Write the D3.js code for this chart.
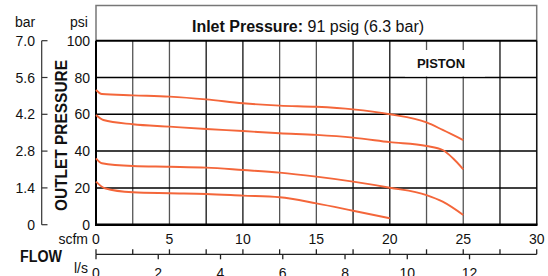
<!DOCTYPE html>
<html>
<head>
<meta charset="utf-8">
<script src="https://cdn.jsdelivr.net/npm/d3@7"></script>
<style>
  body { margin: 0; background: #fff; }
  svg { display: block; font-family: "Liberation Sans", Arial, sans-serif; }
  .lbl { font-size: 14px; fill: #111; }
  .bold { font-weight: bold; }
</style>
</head>
<body>
<div id="chart"></div>
<script>
// flow in scfm, outlet pressure in psi
var curve1 = [[0, 73.2], [0.4, 71], [2.5, 70.3], [5, 69.6], [7.5, 68.1], [10, 66], [12.5, 64.7], [15, 64.1], [17.5, 62.7], [20, 60], [22.5, 55.6], [23.6, 51.5], [25, 46]];
var curve2 = [[0, 59.6], [0.5, 56.9], [2.5, 54.6], [5, 53.3], [7.5, 52], [10, 50.9], [12.5, 49.7], [15, 48.8], [17.5, 47.3], [20, 44.9], [22.5, 42.8], [23.6, 40.6], [24.3, 36.1], [25, 30.1]];
var curve3 = [[0, 36.1], [0.4, 33.4], [2.5, 31.9], [5, 31.5], [7.5, 31], [10, 29.7], [12.5, 28.3], [15, 26.1], [17.5, 23.4], [20, 20.1], [22.5, 16.1], [23.6, 12.5], [25, 5.3]];
var curve4 = [[0, 23.4], [0.6, 19.8], [2.5, 17.6], [5, 17.1], [7.5, 16.7], [10, 15.8], [12.5, 14.9], [15, 11.6], [17.5, 7.6], [20, 3.5]];
var curves = [curve1, curve2, curve3, curve4];

var psiTicks = [0, 20, 40, 60, 80, 100];
var barLabels = ["0", "1.4", "2.8", "4.2", "5.6", "7.0"];
var scfmTicks = [0, 5, 10, 15, 20, 25, 30];
var lsTicks = [0, 2, 4, 6, 8, 10, 12];
var scfmPerLs = 2.119;

var width = 548, height = 276;
var x0 = 96, x1 = 536.7, yTop = 40.7, yBot = 224.7;

var x = d3.scaleLinear().domain([0, 30]).range([x0, x1]);
var xLs = d3.scaleLinear().domain([0, 30 / scfmPerLs]).range([x0, x1]);
var y = d3.scaleLinear().domain([0, 100]).range([yBot, yTop]);

var svg = d3.select("#chart").append("svg")
	.attr("width", width)
	.attr("height", height);

// frame with title area
svg.append("rect")
	.attr("x", x0).attr("y", 5.5)
	.attr("width", x1 - x0).attr("height", yBot - 5.5)
	.attr("fill", "none").attr("stroke", "#777").attr("stroke-width", 1.5);

var title = svg.append("text")
	.attr("class", "lbl")
	.attr("x", 308).attr("y", 31.5)
	.attr("text-anchor", "middle")
	.style("font-size", "16px");
title.append("tspan").attr("class", "bold").text("Inlet Pressure:");
title.append("tspan").text(" 91 psig (6.3 bar)");

// vertical grid
svg.append("g").selectAll("line")
	.data(d3.range(2.5, 30.1, 2.5))
	.enter().append("line")
	.attr("x1", function (d) { return x(d); })
	.attr("x2", function (d) { return x(d); })
	.attr("y1", yTop).attr("y2", yBot)
	.attr("stroke", function (d, i) { return (i % 4 < 2) ? "#555" : "#111"; })
	.attr("stroke-width", 1.3);

// horizontal grid
svg.append("g").selectAll("line")
	.data(psiTicks.filter(function (d) { return d > 0; }))
	.enter().append("line")
	.attr("x1", x0).attr("x2", x1)
	.attr("y1", function (d) { return y(d); })
	.attr("y2", function (d) { return y(d); })
	.attr("stroke", "#000")
	.attr("stroke-width", function (d) { return d == 100 ? 2 : 1.5; });

// PISTON label on white patch
svg.append("rect")
	.attr("x", 405).attr("y", 50)
	.attr("width", 80).attr("height", 26.5)
	.attr("fill", "#fff");
svg.append("text")
	.attr("class", "lbl bold")
	.attr("x", 441).attr("y", 68)
	.attr("text-anchor", "middle")
	.style("font-size", "13px")
	.text("PISTON");

// axes lines of the plot
svg.append("line")
	.attr("x1", x0).attr("x2", x0).attr("y1", yTop).attr("y2", yBot)
	.attr("stroke", "#000").attr("stroke-width", 2);
svg.append("line")
	.attr("x1", x0 - 1).attr("x2", x1 + 0.75).attr("y1", yBot).attr("y2", yBot)
	.attr("stroke", "#000").attr("stroke-width", 2.5);

// curves
var line = d3.line()
	.x(function (d) { return x(d[0]); })
	.y(function (d) { return y(d[1]); })
	.curve(d3.curveMonotoneX);

svg.append("g").selectAll("path")
	.data(curves)
	.enter().append("path")
	.attr("d", line)
	.attr("fill", "none")
	.attr("stroke", "#f4663a")
	.attr("stroke-width", 1.9);

// psi labels
svg.append("g").selectAll("text")
	.data(psiTicks)
	.enter().append("text")
	.attr("class", "lbl")
	.attr("x", 90)
	.attr("y", function (d) { return y(d) + 5; })
	.attr("text-anchor", "end")
	.text(function (d) { return d; });
svg.append("text").attr("class", "lbl")
	.attr("x", 79).attr("y", 27).attr("text-anchor", "middle").text("psi");

// bar axis
svg.append("line")
	.attr("x1", 41.7).attr("x2", 41.7).attr("y1", yTop).attr("y2", yBot)
	.attr("stroke", "#333").attr("stroke-width", 1.2);
svg.append("g").selectAll("line")
	.data(psiTicks)
	.enter().append("line")
	.attr("x1", 41.7).attr("x2", 47.5)
	.attr("y1", function (d) { return y(d); })
	.attr("y2", function (d) { return y(d); })
	.attr("stroke", "#333").attr("stroke-width", 1.2);
svg.append("g").selectAll("text")
	.data(psiTicks)
	.enter().append("text")
	.attr("class", "lbl")
	.attr("x", 35)
	.attr("y", function (d) { return y(d) + 5; })
	.attr("text-anchor", "end")
	.text(function (d, i) { return barLabels[i]; });
svg.append("text").attr("class", "lbl")
	.attr("x", 25).attr("y", 27).attr("text-anchor", "middle").text("bar");

svg.append("text")
	.attr("class", "lbl bold")
	.attr("transform", "translate(67," + 135.5 + ") rotate(-90)")
	.attr("text-anchor", "middle")
	.attr("textLength", 151).attr("lengthAdjust", "spacingAndGlyphs")
	.style("font-size", "17px")
	.text("OUTLET PRESSURE");

// scfm labels
svg.append("g").selectAll("text")
	.data(scfmTicks)
	.enter().append("text")
	.attr("class", "lbl")
	.attr("x", function (d) { return x(d); })
	.attr("y", 244)
	.attr("text-anchor", "middle")
	.text(function (d) { return d; });
svg.append("text").attr("class", "lbl")
	.attr("x", 88).attr("y", 244).attr("text-anchor", "end").text("scfm");

// flow secondary axis
var yAx = 254.3;
svg.append("line")
	.attr("x1", x0).attr("x2", x1).attr("y1", yAx).attr("y2", yAx)
	.attr("stroke", "#222").attr("stroke-width", 1.3);
svg.append("g").selectAll("line")
	.data(d3.range(0, 30.1, 2.5))
	.enter().append("line")
	.attr("x1", function (d) { return x(d); })
	.attr("x2", function (d) { return x(d); })
	.attr("y1", yAx - 5).attr("y2", yAx)
	.attr("stroke", "#222").attr("stroke-width", 1.3);
svg.append("g").selectAll("line")
	.data(lsTicks)
	.enter().append("line")
	.attr("x1", function (d) { return xLs(d); })
	.attr("x2", function (d) { return xLs(d); })
	.attr("y1", yAx).attr("y2", yAx + 5)
	.attr("stroke", "#222").attr("stroke-width", 1.3);
svg.append("g").selectAll("text")
	.data(lsTicks)
	.enter().append("text")
	.attr("class", "lbl")
	.attr("x", function (d) { return xLs(d); })
	.attr("y", 278)
	.attr("text-anchor", "middle")
	.text(function (d) { return d; });
svg.append("text").attr("class", "lbl")
	.attr("x", 88).attr("y", 273).attr("text-anchor", "end").text("l/s");
svg.append("text")
	.attr("class", "lbl bold")
	.attr("x", 20).attr("y", 262)
	.attr("textLength", 42).attr("lengthAdjust", "spacingAndGlyphs")
	.style("font-size", "16px")
	.text("FLOW");
</script>
</body>
</html>
